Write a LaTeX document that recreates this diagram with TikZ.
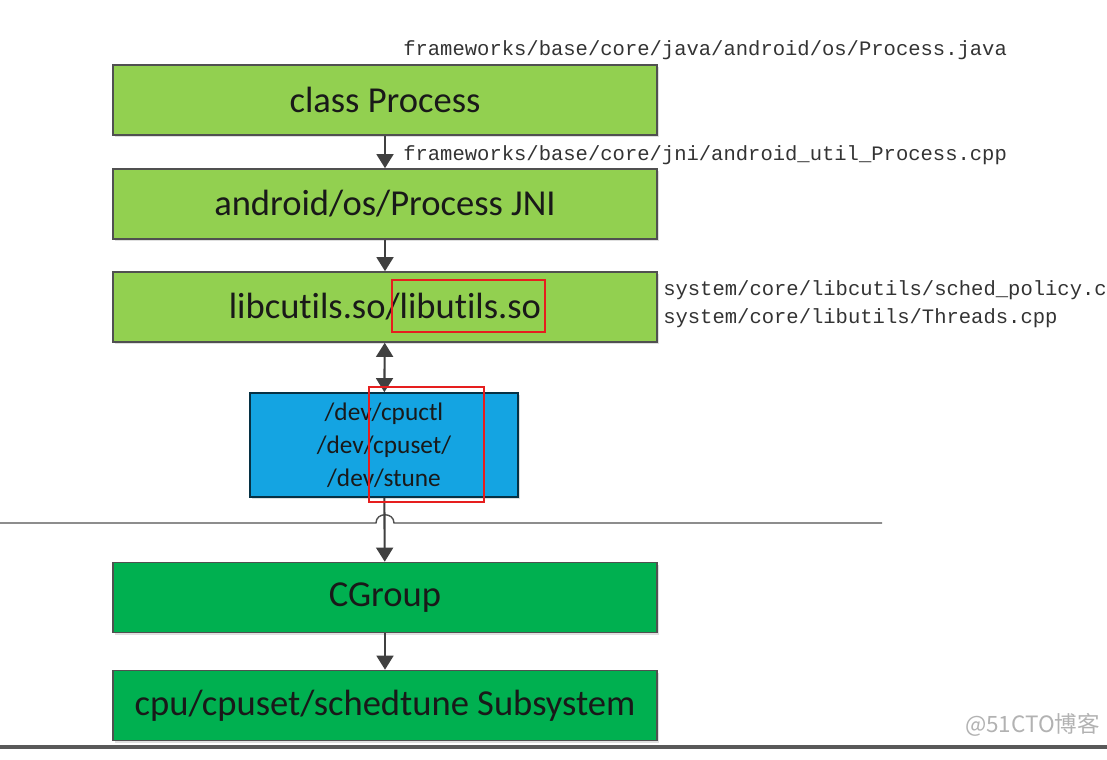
\documentclass[tikz,border=0pt]{standalone}
\usepackage{fontspec}
\setmainfont{Carlito}[Ligatures=NoCommon]
\newfontfamily\pathfont{Liberation Mono}
\newfontfamily\cjkfont{Noto Sans CJK SC}
\usetikzlibrary{arrows.meta,shadows}
\definecolor{lightgreen}{RGB}{146,208,80}
\definecolor{darkgreen}{RGB}{0,176,80}
\definecolor{devblue}{RGB}{20,164,226}
\definecolor{boxline}{RGB}{80,80,80}
\definecolor{arrowgray}{RGB}{64,64,64}
\definecolor{markred}{RGB}{230,30,30}
\begin{document}
\begin{tikzpicture}[x=0.025cm,y=-0.025cm,
  box/.style={draw=boxline, line width=1.1pt, inner sep=0pt,
    minimum width=13.6cm, minimum height=1.75cm,
    font=\fontsize{26}{30}\selectfont, text=black!90,
    drop shadow={shadow xshift=1.5pt, shadow yshift=-1.5pt, opacity=.25}},
  devbox/.style={box, fill=devblue, draw=black!70!devblue, minimum width=6.7cm, minimum height=2.6cm,
    align=center, font=\fontsize{18}{23.5}\selectfont},
  srcfile/.style={anchor=west, inner sep=0pt, text=black!80,
    font=\pathfont\fontsize{14.6}{20}\selectfont, align=left},
  link/.style={draw=arrowgray, line width=1.5pt,
    -{Triangle[width=12pt,length=10pt]}},
  both/.style={link, {Triangle[width=12pt,length=10pt]}-{Triangle[width=12pt,length=10pt]}},
  redmark/.style={draw=markred, line width=1pt}]

  \useasboundingbox (0,0) rectangle (1107,760);

  % layers
  \node[box, fill=lightgreen] (process) at (385,100) {class Process};
  \node[box, fill=lightgreen] (jni) at (385,204) {android/os/Process JNI};
  \node[box, fill=lightgreen] (libs) at (385,307) {libcutils.so/libutils.so};
  \node[devbox] (dev) at (384,445) {/dev/cpuctl\\/dev/cpuset/\\/dev/stune};
  \node[box, fill=darkgreen] (cgroup) at (385,597.5) {CGroup};
  \node[box, fill=darkgreen] (subsys) at (385,705.5) {cpu/cpuset/schedtune Subsystem};

  % source files
  \node[srcfile] (javafile) at (403,50) {frameworks/base/core/java/android/os/Process.java};
  \node[srcfile] (jnifile) at (403,155) {frameworks/base/core/jni/android\_util\_Process.cpp};
  \node[srcfile] (libfiles) at (663,304) {system/core/libcutils/sched\_policy.c\\system/core/libutils/Threads.cpp};

  % user / kernel split
  \draw[draw=boxline, line width=1pt] (0,523) -- (376,523)
    .. controls (376,512) and (394,512) .. (394,523) -- (882,523);

  \draw[link] (process) -- (jni);
  \draw[link] (jni) -- (libs);
  \draw[both] (libs) -- (dev);
  \draw[link] (dev) -- (cgroup);
  \draw[link] (cgroup) -- (subsys);

  % highlights
  \draw[redmark] (392,280) rectangle (545,332);
  \draw[redmark] (369,387) rectangle (484,502);

  \draw[draw=black!65, line width=2.5pt] (0,747) -- (1107,747);
  \node[text=black!30, font=\cjkfont\fontsize{16}{18}\selectfont, anchor=east, inner sep=0pt]
    (mark51) at (1100,725) {@51CTO博客};

\end{tikzpicture}
\end{document}
